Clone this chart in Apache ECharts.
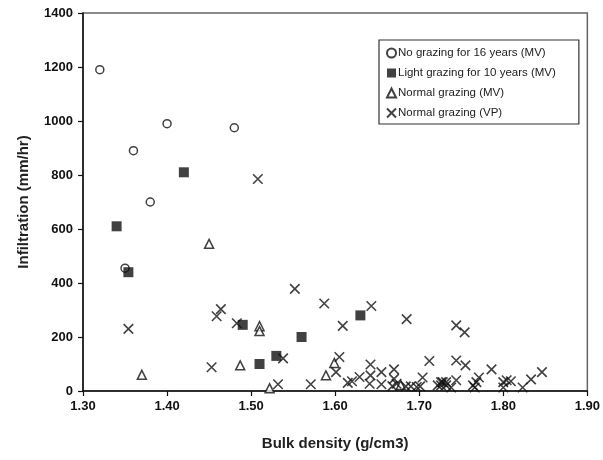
<!DOCTYPE html>
<html>
<head>
<meta charset="utf-8">
<script src="https://cdn.jsdelivr.net/npm/echarts@6/dist/echarts.min.js"></script>
<style>html,body{margin:0;padding:0;background:#fff}#c{width:603px;height:460px}</style>
</head>
<body>
<div id="c"></div>
<script>
var seriesNames = ["No grazing for 16 years (MV)", "Light grazing for 10 years (MV)", "Normal grazing (MV)", "Normal grazing (VP)"];
var xTickLabels = ["1.30","1.40","1.50","1.60","1.70","1.80","1.90"];
var yTickLabels = ["0","200","400","600","800","1000","1200","1400"];

var noGrazing = [[1.32,1190],[1.36,890],[1.40,990],[1.48,975],[1.38,700],[1.35,455]];
var lightGrazing = [[1.34,610],[1.42,810],[1.354,440],[1.49,245],[1.51,100],[1.53,130],[1.56,200],[1.63,280]];
var normalMV = [[1.45,545],[1.37,60],[1.487,95],[1.51,240],[1.51,222],[1.522,10],[1.599,104],[1.589,58],[1.678,22]];
var normalVP = [[1.508,785],[1.354,230],[1.459,277],[1.464,303],[1.483,251],[1.453,88],[1.538,121],[1.532,25],[1.552,378],[1.571,25],
  [1.587,324],[1.643,315],[1.609,241],[1.685,266],[1.605,126],[1.601,70],[1.615,30],[1.62,36],[1.629,52],[1.642,98],[1.642,58],[1.641,27],
  [1.655,70],[1.655,25],[1.67,80],[1.67,45],[1.673,27],[1.668,18],[1.684,17],[1.690,17],[1.697,15],[1.701,17],[1.704,50],[1.712,111],
  [1.722,21],[1.726,33],[1.732,21],[1.744,243],[1.754,217],[1.744,113],[1.755,95],[1.728,33],[1.732,33],[1.738,13],[1.744,40],[1.726,21],
  [1.764,21],[1.768,33],[1.771,50],[1.766,13],[1.786,80],[1.80,33],[1.804,40],[1.809,36],[1.80,13],[1.823,13],[1.833,43],[1.846,70]];

var crossPath = 'path://M0,0L10,10M10,0L0,10';
var chart = echarts.init(document.getElementById('c'), null, {renderer:'canvas'});
var font = '"Liberation Sans", Arial, sans-serif';
chart.setOption({
  animation:false,
  backgroundColor:'#fff',
  grid:{left:83,top:13,width:505,height:378,show:true,borderColor:'#666',borderWidth:1.5,backgroundColor:'transparent'},
  xAxis:{type:'value',min:1.3,max:1.9,interval:0.1,
    name:'Bulk density (g/cm3)',nameLocation:'middle',nameGap:45,
    nameTextStyle:{fontFamily:font,fontWeight:'bold',fontSize:15,color:'#222'},
    axisLine:{lineStyle:{color:'#111',width:1.5}},
    axisTick:{show:true,inside:false,length:5,lineStyle:{color:'#111',width:1.2}},
    splitLine:{show:false},
    axisLabel:{margin:9,fontFamily:font,fontWeight:'bold',fontSize:13,color:'#111',
      formatter:function(v){var i=Math.round((v-1.3)/0.1);return xTickLabels[i]!==undefined?xTickLabels[i]:v.toFixed(2);}}
  },
  yAxis:{type:'value',min:0,max:1400,interval:200,
    name:'Infiltration (mm/hr)',nameLocation:'middle',nameGap:52,nameRotate:90,
    nameTextStyle:{fontFamily:font,fontWeight:'bold',fontSize:15,color:'#222'},
    axisLine:{show:true,lineStyle:{color:'#111',width:1.5}},
    axisTick:{show:true,inside:false,length:5,lineStyle:{color:'#111',width:1.2}},
    splitLine:{show:false},
    axisLabel:{margin:10,fontFamily:font,fontWeight:'bold',fontSize:13,color:'#111',
      formatter:function(v){var i=Math.round(v/200);return yTickLabels[i]!==undefined?yTickLabels[i]:String(v);}}
  },
  legend:{orient:'vertical',left:379,top:40,itemGap:8,itemWidth:9,itemHeight:9,
    padding:[7,23,5,7],borderColor:'#333',borderWidth:1.2,backgroundColor:'#fff',
    textStyle:{fontFamily:font,fontSize:11.5,color:'#222',padding:[0,0,0,-3]},
    data:seriesNames.map(function(n){return {name:n};})
  },
  series:[
    {name:seriesNames[0],type:'scatter',data:noGrazing,symbol:'circle',symbolSize:8,
      itemStyle:{color:'#fff',borderColor:'#111',borderWidth:1.5}},
    {name:seriesNames[1],type:'scatter',data:lightGrazing,symbol:'rect',symbolSize:10,
      itemStyle:{color:'#111',borderColor:'#111',borderWidth:0}},
    {name:seriesNames[2],type:'scatter',data:normalMV,symbol:'triangle',symbolSize:9,
      itemStyle:{color:'#fff',borderColor:'#111',borderWidth:1.5}},
    {name:seriesNames[3],type:'scatter',data:normalVP,symbol:crossPath,symbolSize:9.5,
      itemStyle:{color:'rgba(0,0,0,0)',borderColor:'#111',borderWidth:1.6}}
  ]
});
</script>
</body>
</html>
